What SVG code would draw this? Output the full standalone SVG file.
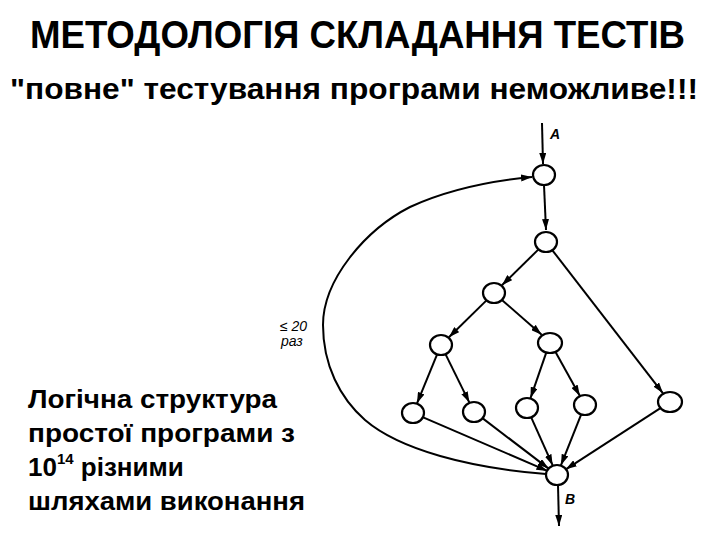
<svg xmlns="http://www.w3.org/2000/svg" width="720" height="540" viewBox="0 0 720 540">
<style>
.title{font-family:"Liberation Sans",Arial,sans-serif;font-weight:bold;fill:#000}
.body{font-family:"Liberation Sans",Arial,sans-serif;font-weight:bold;font-style:normal;font-size:26px;fill:#000}
.hand{font-family:"Liberation Sans",Arial,sans-serif;font-style:italic;font-size:14px;fill:#000}
.node{fill:#fff;stroke:#000;stroke-width:2.2}
.edge{fill:none;stroke:#000;stroke-width:2}
</style>
<defs>
<marker id="arr" viewBox="0 0 11 7" refX="11" refY="3.5" markerWidth="11" markerHeight="7" markerUnits="userSpaceOnUse" orient="auto">
<path d="M0,0 L11,3.5 L0,7 z" fill="#000"/>
</marker>
</defs>
<rect width="720" height="540" fill="#fff"/>
<text class="title" x="30" y="48" font-size="38" textLength="655" lengthAdjust="spacingAndGlyphs">МЕТОДОЛОГІЯ СКЛАДАННЯ ТЕСТІВ</text>
<text class="title" x="10" y="99" font-size="29" textLength="688" lengthAdjust="spacingAndGlyphs">"повне" тестування програми неможливе!!!</text>
<g id="caption">
<text class="body" x="28" y="408" textLength="249" lengthAdjust="spacingAndGlyphs">Логічна структура</text>
<text class="body" x="28" y="442" textLength="267" lengthAdjust="spacingAndGlyphs">простої програми з</text>
<text class="body" x="28" y="476">10<tspan font-size="15" dy="-12">14</tspan><tspan dy="12"> різними</tspan></text>
<text class="body" x="28" y="510" textLength="277" lengthAdjust="spacingAndGlyphs">шляхами виконання</text>
</g>
<g id="connectors">
<path class="edge" d="M542,123 L543,164" marker-end="url(#arr)"/>
<path class="edge" d="M544,185 L546,230" marker-end="url(#arr)"/>
<path class="edge" d="M538.5,249.4 L501.9,285.3" marker-end="url(#arr)"/>
<path class="edge" d="M552.4,250.3 L663,393.3" marker-end="url(#arr)"/>
<path class="edge" d="M486.5,300.4 L448.9,337.3" marker-end="url(#arr)"/>
<path class="edge" d="M501.9,299.9 L541.7,334.7" marker-end="url(#arr)"/>
<path class="edge" d="M437,354.7 L417,403.3" marker-end="url(#arr)"/>
<path class="edge" d="M445.6,354.4 L469.4,402.6" marker-end="url(#arr)"/>
<path class="edge" d="M546.5,351.9 L530.5,398.1" marker-end="url(#arr)"/>
<path class="edge" d="M555.1,351.2 L579.9,395.9" marker-end="url(#arr)"/>
<path class="edge" d="M422.6,417.1 L547.4,470.9" marker-end="url(#arr)"/>
<path class="edge" d="M482.4,418.1 L548.6,468.6" marker-end="url(#arr)"/>
<path class="edge" d="M531.3,417.6 L552.7,465.4" marker-end="url(#arr)"/>
<path class="edge" d="M581.1,414.7 L560.9,465.3" marker-end="url(#arr)"/>
<path class="edge" d="M661.2,407.7 L565.8,469.3" marker-end="url(#arr)"/>
<path class="edge" d="M546,474 C470,468 400,450 365,420 C340,398 323,365 323,325 C323,280 365,230 410,207 C445,191 490,181 532,177" marker-end="url(#arr)"/>
<path class="edge" d="M558,485 L559,526" marker-end="url(#arr)"/>
</g>
<g id="labels">
<text class="hand" x="550" y="139" font-weight="bold">A</text>
<text class="hand" x="565" y="504" font-weight="bold">B</text>
<text class="hand" x="280" y="331">≤ 20</text>
<text class="hand" x="281" y="346">раз</text>
</g>
<g id="n1"><ellipse class="node" cx="544" cy="175" rx="11" ry="10"/></g>
<g id="n2"><ellipse class="node" cx="546" cy="242" rx="11" ry="10"/></g>
<g id="n3"><ellipse class="node" cx="494" cy="293" rx="11" ry="10"/></g>
<g id="n4"><ellipse class="node" cx="441" cy="345" rx="11" ry="10"/></g>
<g id="n5"><ellipse class="node" cx="550" cy="343" rx="12" ry="10"/></g>
<g id="l1"><ellipse class="node" cx="413" cy="413" rx="11" ry="10"/></g>
<g id="l2"><ellipse class="node" cx="474" cy="412" rx="11" ry="10"/></g>
<g id="l3"><ellipse class="node" cx="527" cy="408" rx="11" ry="10"/></g>
<g id="l4"><ellipse class="node" cx="585" cy="405" rx="11" ry="10"/></g>
<g id="l5"><ellipse class="node" cx="670" cy="402" rx="12" ry="10"/></g>
<g id="nb"><ellipse class="node" cx="557" cy="475" rx="11" ry="10"/></g>
</svg>
